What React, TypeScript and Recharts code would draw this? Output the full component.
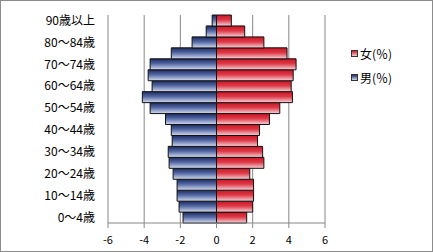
import { Bar, BarChart, CartesianGrid, XAxis, YAxis } from "recharts";

const ages = [
  "0～4歳", "5～9歳", "10～14歳", "15～19歳", "20～24歳", "25～29歳", "30～34歳",
  "35～39歳", "40～44歳", "45～49歳", "50～54歳", "55～59歳", "60～64歳", "65～69歳",
  "70～74歳", "75～79歳", "80～84歳", "85～89歳", "90歳以上",
];
const female = [1.67, 2.0, 2.05, 2.05, 1.84, 2.62, 2.55, 2.27, 2.38, 2.93, 3.5, 4.2, 4.13, 4.24, 4.4, 3.9, 2.62, 1.56, 0.82];
const male = [-1.85, -2.07, -2.18, -2.18, -2.4, -2.62, -2.67, -2.45, -2.5, -2.82, -3.67, -4.1, -3.56, -3.78, -3.67, -2.5, -1.35, -0.57, -0.24];
const xTicks = [-6, -4, -2, 0, 2, 4, 6];

const legendItems = [
  { name: "女(％)", grad: "linear-gradient(#d01c28, #f6ccd2)" },
  { name: "男(％)", grad: "linear-gradient(#1e2f66, #d0d8ee)" },
];

const data = ages.map((age, i) => ({ age, female: female[i], male: male[i] }));

const font = '"Noto Sans CJK JP", sans-serif';

export default function App() {
  return (
    <div
      style={{
        position: "absolute",
        left: 0,
        top: 0,
        width: 433,
        height: 252,
        background: "#fff",
        fontFamily: font,
      }}
    >
      <BarChart
        width={433}
        height={252}
        data={data}
        layout="vertical"
        stackOffset="sign"
        barCategoryGap={0}
        margin={{ top: 15, right: 108, left: 0, bottom: 0 }}
      >
        <defs>
          <linearGradient id="gf" x1="0" y1="0" x2="0" y2="1">
            <stop offset="0%" stopColor="#cc1422" />
            <stop offset="45%" stopColor="#de3a48" />
            <stop offset="100%" stopColor="#f8d4da" />
          </linearGradient>
          <linearGradient id="gm" x1="0" y1="0" x2="0" y2="1">
            <stop offset="0%" stopColor="#1a2a5e" />
            <stop offset="45%" stopColor="#5468a4" />
            <stop offset="100%" stopColor="#d6ddf0" />
          </linearGradient>
        </defs>
        <CartesianGrid horizontal={false} stroke="#868686" />
        <XAxis
          type="number"
          domain={[-6, 6]}
          ticks={xTicks}
          height={29}
          stroke="#868686"
          tickSize={5}
          tickMargin={8}
          tick={{ fill: "#000", fontSize: 11 }}
        />
        <YAxis
          type="category"
          dataKey="age"
          reversed
          width={108}
          axisLine={false}
          tickLine={false}
          tickSize={0}
          tickMargin={13}
          interval={1}
          tick={{ fill: "#000", fontSize: 12 }}
        />
        <Bar
          dataKey="female"
          name="女(％)"
          stackId="a"
          fill="url(#gf)"
          stroke="#111"
          strokeWidth={1}
          isAnimationActive={false}
        />
        <Bar
          dataKey="male"
          name="男(％)"
          stackId="a"
          fill="url(#gm)"
          stroke="#111"
          strokeWidth={1}
          isAnimationActive={false}
        />
      </BarChart>

      <div style={{ position: "absolute", left: 351, top: 41 }}>
        {legendItems.map((item) => (
          <div
            key={item.name}
            style={{ display: "flex", alignItems: "center", height: 24, fontSize: 12, color: "#000" }}
          >
            <span
              style={{
                display: "inline-block",
                width: 5,
                height: 5,
                border: "1px solid #333",
                background: item.grad,
                marginRight: 2,
              }}
            />
            {item.name}
          </div>
        ))}
      </div>

      <div
        style={{
          position: "absolute",
          left: 0,
          top: 0,
          width: 433,
          height: 252,
          boxSizing: "border-box",
          border: "1px solid #8c8c8c",
          pointerEvents: "none",
        }}
      />
    </div>
  );
}
